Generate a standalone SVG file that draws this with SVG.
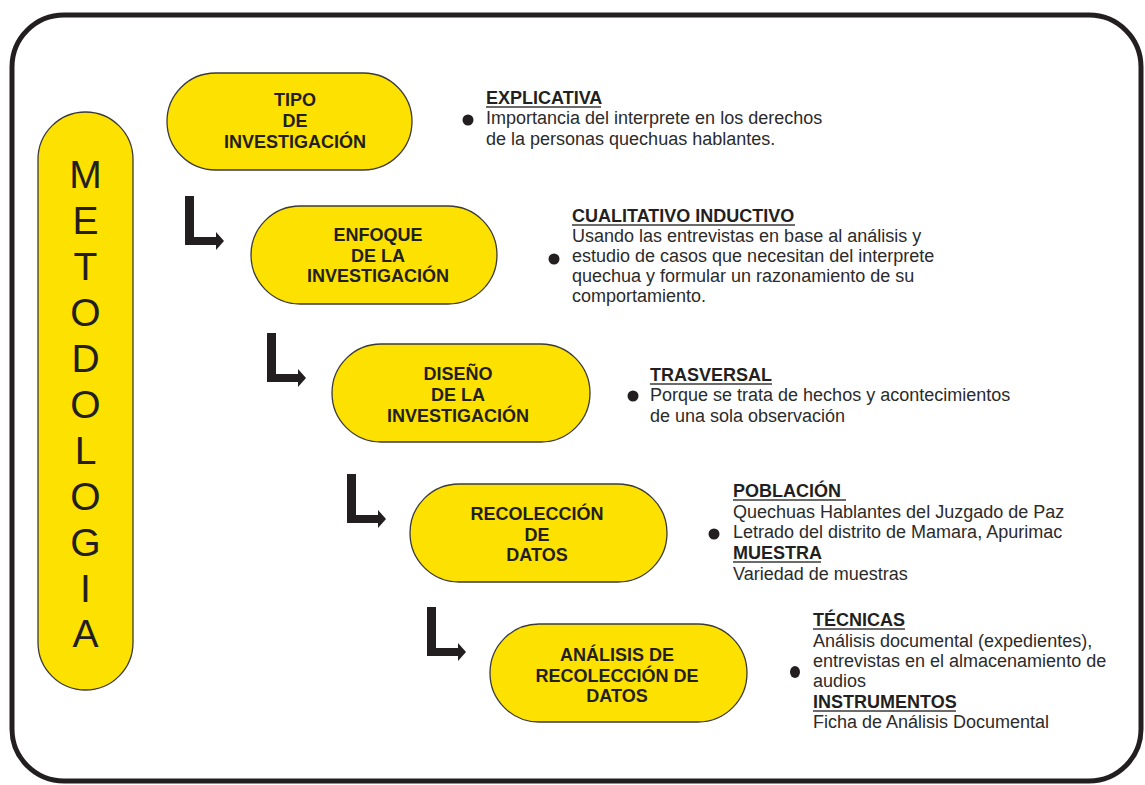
<svg xmlns="http://www.w3.org/2000/svg" xmlns:xlink="http://www.w3.org/1999/xlink" width="1145" height="785" viewBox="0 0 1145 785">
<style>
.pill{fill:#FDE100;stroke:#3a3a3a;stroke-width:1.3}
.nt{font-family:"Liberation Sans",Arial,sans-serif;font-weight:bold;font-size:18px;fill:#231f20;text-anchor:middle}
.big{font-family:"Liberation Sans",Arial,sans-serif;font-size:39px;fill:#231f20;text-anchor:middle}
.h{font-family:"Liberation Sans",Arial,sans-serif;font-weight:bold;font-size:18px;fill:#231f20}
.b{font-family:"Liberation Sans",Arial,sans-serif;font-size:18px;fill:#2b2b2b}
.ul{stroke:#3a3a3a;stroke-width:1.5}
.dot{fill:#231f20}
.arr{fill:#231f20}
</style>
<defs>
<path id="larrow" d="M0,0 H9 V41 H31 V36 L39,45 L31,54 V49 H0 Z"/>
</defs>
<rect x="0" y="0" width="1145" height="785" fill="#ffffff"/>
<rect id="frame" x="12" y="15" width="1129" height="766" rx="52" ry="52" fill="none" stroke="#231f20" stroke-width="5"/>

<g id="metodologia">
<rect class="pill" x="38" y="112" width="95" height="578" rx="47.5" ry="47.5"/>
<text class="big" x="85.5" y="188">M</text>
<text class="big" x="85.5" y="234">E</text>
<text class="big" x="85.5" y="280">T</text>
<text class="big" x="85.5" y="326">O</text>
<text class="big" x="85.5" y="372">D</text>
<text class="big" x="85.5" y="418">O</text>
<text class="big" x="85.5" y="464">L</text>
<text class="big" x="85.5" y="510">O</text>
<text class="big" x="85.5" y="556">G</text>
<text class="big" x="85.5" y="602">I</text>
<text class="big" x="85.5" y="647">A</text>
</g>

<g id="connectors">
<use xlink:href="#larrow" class="arr" transform="translate(185,196)"/>
<use xlink:href="#larrow" class="arr" transform="translate(267,333)"/>
<use xlink:href="#larrow" class="arr" transform="translate(347,474)"/>
<use xlink:href="#larrow" class="arr" transform="translate(427,607)"/>
</g>

<g id="tipo">
<rect class="pill" x="167" y="73" width="245" height="97" rx="48.5" ry="48.5"/>
<text class="nt" x="295" y="106">TIPO</text>
<text class="nt" x="295" y="127">DE</text>
<text class="nt" x="295" y="148">INVESTIGACIÓN</text>
</g>

<g id="enfoque">
<rect class="pill" x="251" y="206" width="246" height="98" rx="49" ry="49"/>
<text class="nt" x="378" y="241">ENFOQUE</text>
<text class="nt" x="378" y="262">DE LA</text>
<text class="nt" x="378" y="282">INVESTIGACIÓN</text>
</g>

<g id="diseno">
<rect class="pill" x="332" y="344" width="258" height="98" rx="49" ry="49"/>
<text class="nt" x="458" y="380">DISEÑO</text>
<text class="nt" x="458" y="401">DE LA</text>
<text class="nt" x="458" y="422">INVESTIGACIÓN</text>
</g>

<g id="recoleccion">
<rect class="pill" x="410" y="484" width="257" height="98" rx="49" ry="49"/>
<text class="nt" x="537" y="520">RECOLECCIÓN</text>
<text class="nt" x="537" y="541">DE</text>
<text class="nt" x="537" y="561">DATOS</text>
</g>

<g id="analisis">
<rect class="pill" x="490" y="624" width="257" height="98" rx="49" ry="49"/>
<text class="nt" x="617" y="661">ANÁLISIS DE</text>
<text class="nt" x="617" y="682">RECOLECCIÓN DE</text>
<text class="nt" x="617" y="702">DATOS</text>
</g>

<g id="desc-tipo">
<text class="h" x="486" y="104">EXPLICATIVA</text>
<line class="ul" x1="486" y1="107" x2="601" y2="107"/>
<circle class="dot" cx="468" cy="120" r="5.5"/>
<text class="b" x="486" y="124">Importancia del interprete en los derechos</text>
<text class="b" x="486" y="145">de la personas quechuas hablantes.</text>
</g>

<g id="desc-enfoque">
<text class="h" x="572" y="222">CUALITATIVO INDUCTIVO</text>
<line class="ul" x1="572" y1="225" x2="795" y2="225"/>
<circle class="dot" cx="554" cy="259" r="5.5"/>
<text class="b" x="572" y="242">Usando las entrevistas en base al análisis y</text>
<text class="b" x="572" y="262">estudio de casos que necesitan del interprete</text>
<text class="b" x="572" y="282">quechua y formular un razonamiento de su</text>
<text class="b" x="572" y="302">comportamiento.</text>
</g>

<g id="desc-diseno">
<text class="h" x="650" y="381">TRASVERSAL</text>
<line class="ul" x1="650" y1="384" x2="772" y2="384"/>
<circle class="dot" cx="633" cy="396" r="5.5"/>
<text class="b" x="650" y="401">Porque se trata de hechos y acontecimientos</text>
<text class="b" x="650" y="422">de una sola observación</text>
</g>

<g id="desc-recoleccion">
<text class="h" x="733" y="497">POBLACIÓN</text>
<line class="ul" x1="733" y1="500" x2="846" y2="500"/>
<circle class="dot" cx="714" cy="534" r="5.5"/>
<text class="b" x="733" y="518">Quechuas Hablantes del Juzgado de Paz</text>
<text class="b" x="733" y="538">Letrado del distrito de Mamara, Apurimac</text>
<text class="h" x="733" y="559">MUESTRA</text>
<line class="ul" x1="733" y1="562" x2="821" y2="562"/>
<text class="b" x="733" y="580">Variedad de muestras</text>
</g>

<g id="desc-analisis">
<text class="h" x="813" y="626">TÉCNICAS</text>
<line class="ul" x1="813" y1="629" x2="905" y2="629"/>
<ellipse class="dot" cx="795" cy="672" rx="5" ry="6"/>
<text class="b" x="813" y="647">Análisis documental (expedientes),</text>
<text class="b" x="813" y="667">entrevistas en el almacenamiento de</text>
<text class="b" x="813" y="687">audios</text>
<text class="h" x="813" y="708">INSTRUMENTOS</text>
<line class="ul" x1="813" y1="711" x2="956" y2="711"/>
<text class="b" x="813" y="728">Ficha de Análisis Documental</text>
</g>
</svg>
